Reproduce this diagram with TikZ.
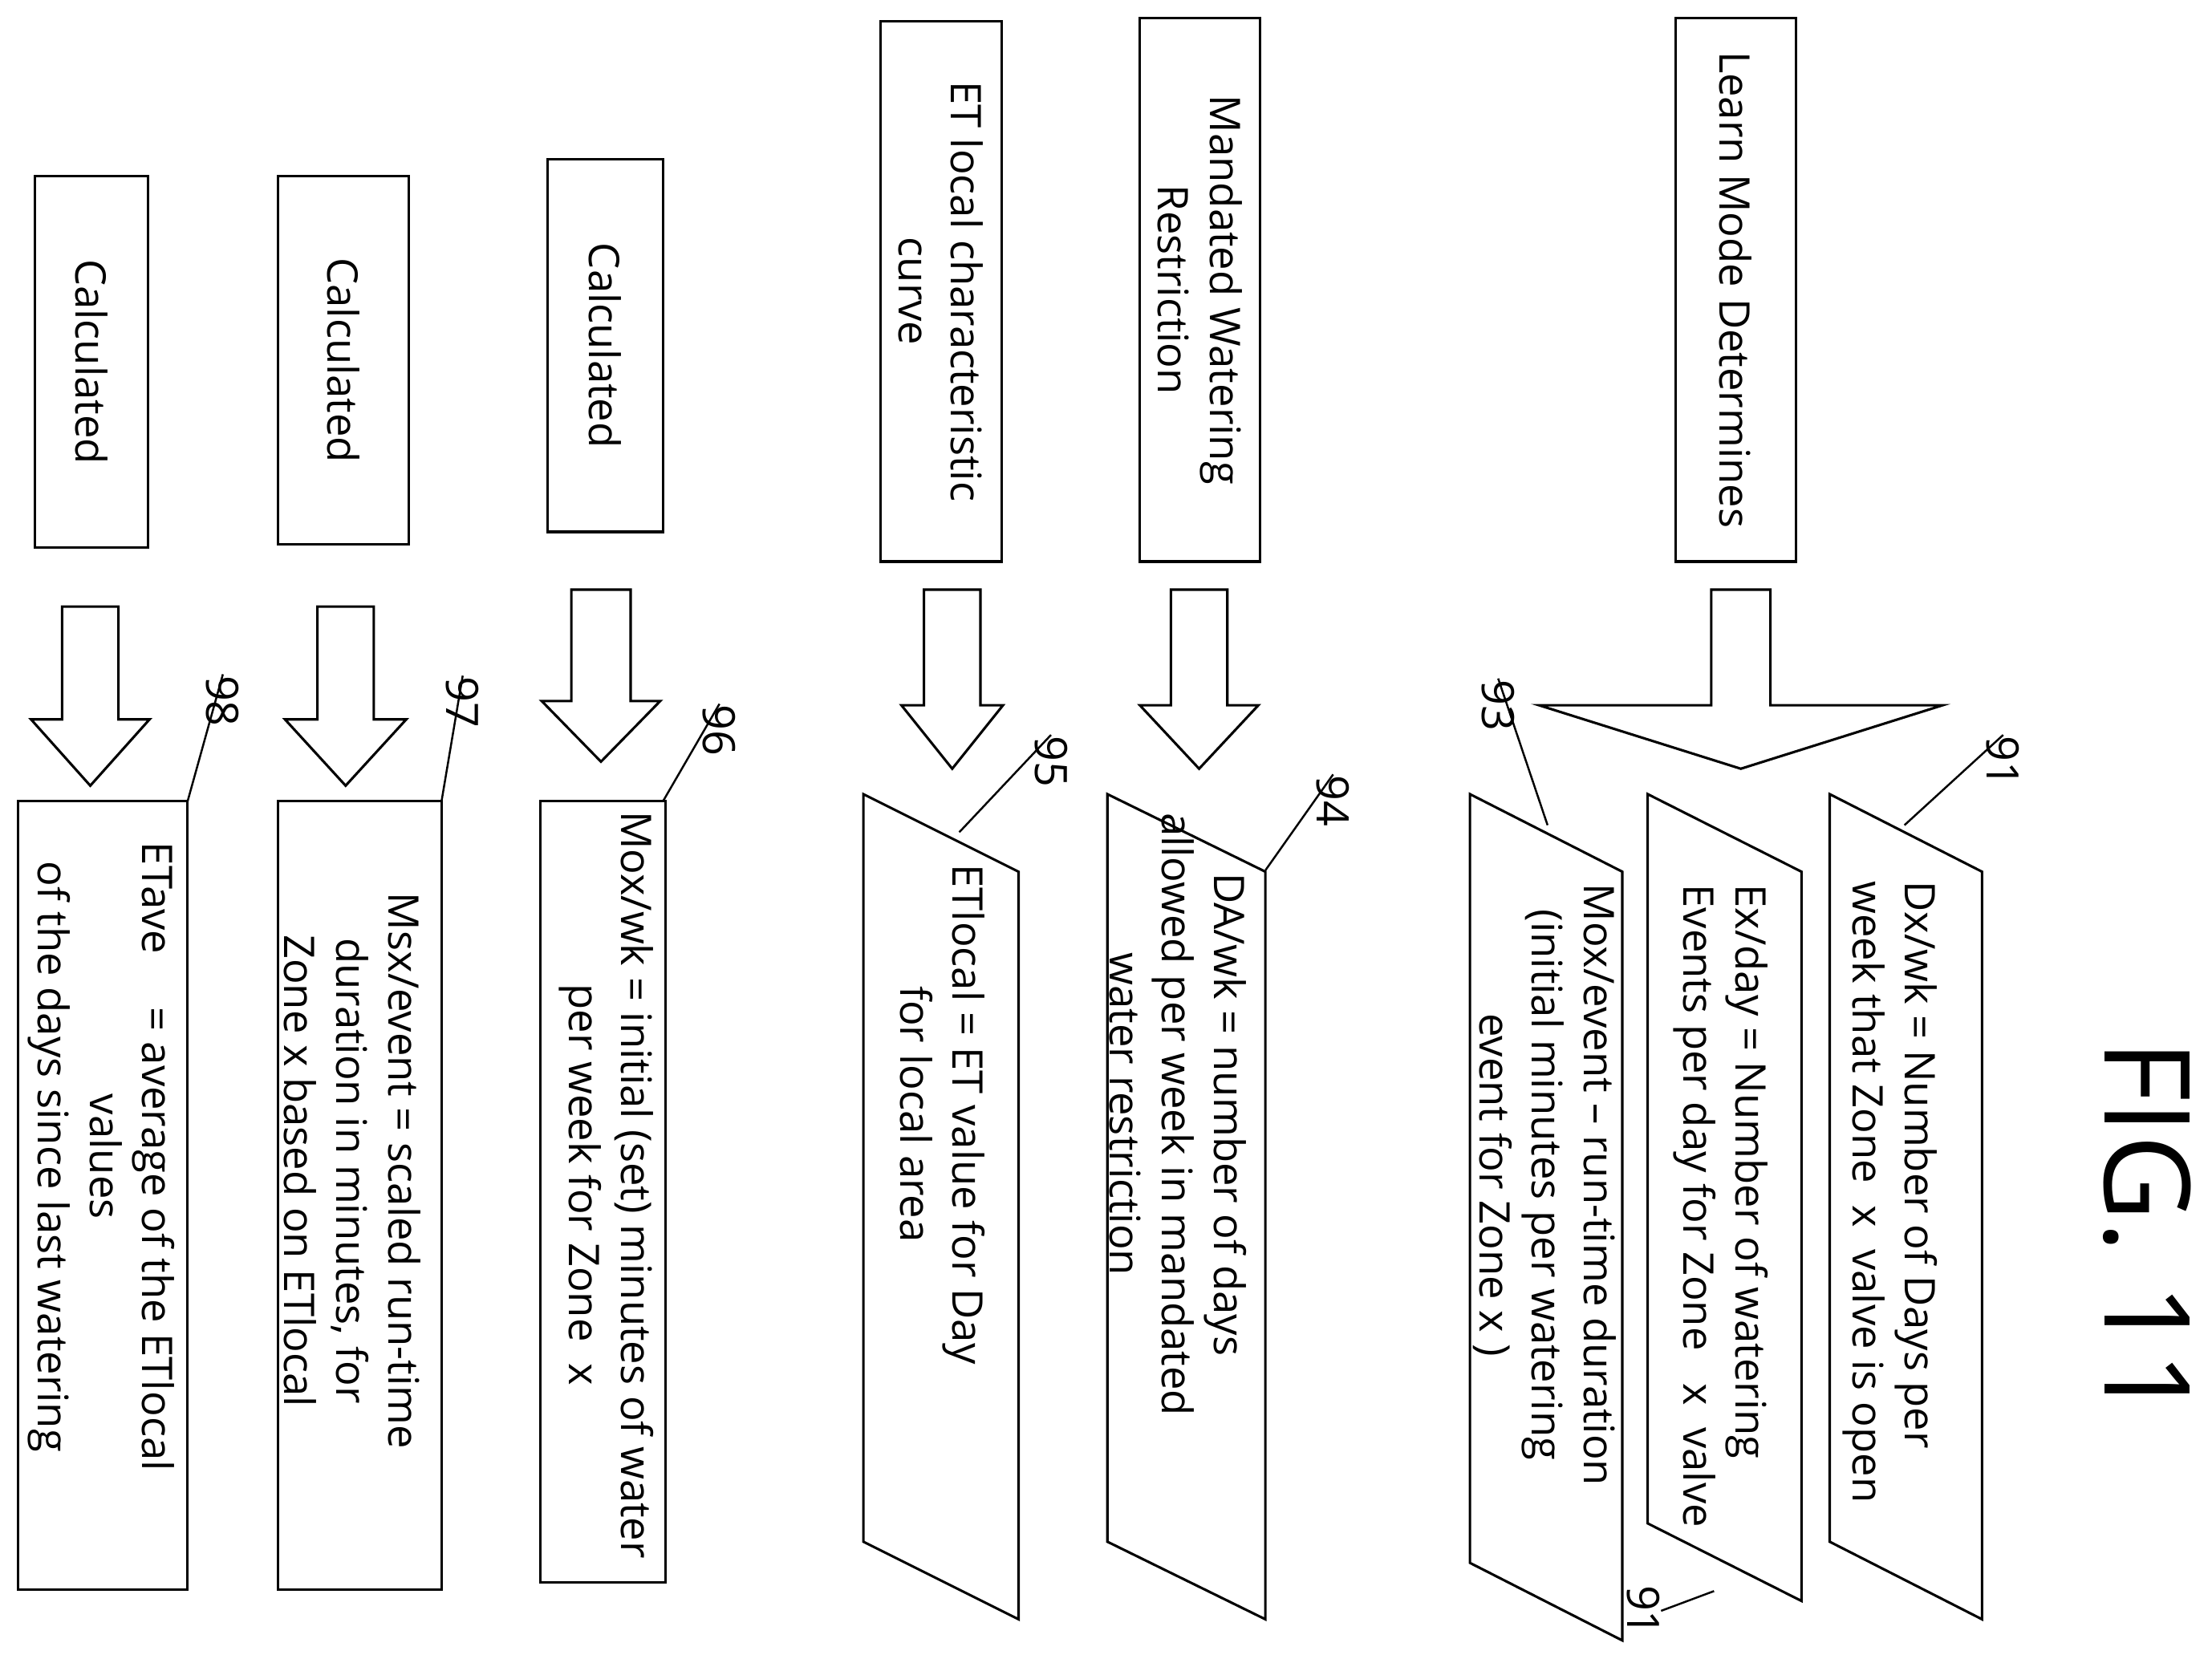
\documentclass[tikz,border=0pt]{standalone}
\usepackage{fontspec}
\setmainfont{Open Sans}
\usepackage{tikz}
\usetikzlibrary{positioning}
\tikzset{
  box/.style={draw, rotate=-90, inner sep=0pt, font=\fontsize{8.5}{10.5}\selectfont, align=center},
  txt/.style={rotate=-90, inner sep=0pt, font=\fontsize{8.5}{10.5}\selectfont, align=center},
  num/.style={rotate=-90, inner sep=0pt, font=\fontsize{9}{10}\selectfont},
  lead/.style={thin}
}
\begin{document}
\begin{tikzpicture}[x=0.01cm,y=-0.01cm,line width=0.5pt]
\useasboundingbox (0,0) rectangle (1568,1176);

% to draw input boxes
\node [box, minimum width=3.85cm, minimum height=0.85cm] (learn) at (1230.5,205.5) {Learn Mode Determines};
\node [box, minimum width=3.85cm, minimum height=0.85cm] (mand) at (850.5,205.5) {Mandated Watering\\Restriction};
\node [box, minimum width=3.83cm, minimum height=0.86cm] (etc) at (667,206.5) {ET local characteristic\\curve};
\node [box, minimum width=2.64cm, minimum height=0.82cm] (calc1) at (429,245) {Calculated};
\node [box, minimum width=2.61cm, minimum height=0.93cm] (calc2) at (243.5,255.5) {Calculated};
\node [box, minimum width=2.63cm, minimum height=0.80cm] (calc3) at (65,256.5) {Calculated};

% to draw block arrows
\foreach \cx/\yt/\yh/\yp/\s/\h in {1234/418/500/545/21/143, 850/418/500/545/20/42,
    675/418/500/545/20/36, 426/418/497/540/21/42, 245/430/510/557/20/43, 64/430/510/557/20/42}
  \draw (\cx-\s,\yt) -- (\cx+\s,\yt) -- (\cx+\s,\yh) -- (\cx+\h,\yh) -- (\cx,\yp)
        -- (\cx-\h,\yh) -- (\cx-\s,\yh) -- cycle;

% to draw slanted boxes
\foreach \xl/\xr/\yt/\yb in {1297/1405/563/1093, 1168/1277/563/1080, 1042/1150/563/1108,
    785/897/563/1093, 612/722/563/1093}
  \draw (\xl,\yt) -- (\xr,\yt+55) -- (\xr,\yb+55) -- (\xl,\yb) -- cycle;

% to draw result boxes
\draw (383,568) rectangle (472,1122);
\draw (197,568) rectangle (313,1127);
\draw (13,568) rectangle (133,1127);

% to write results
\node [txt, align=left] (dx) at (1340,845) {Dx/wk = Number of Days per\\week that Zone \ x \ valve is open};
\node [txt, align=left] (ex) at (1220,855) {Ex/day = Number of watering\\Events per day for Zone \ \ x \ valve};
\node [txt] (mox) at (1095,840) {Mox/event -- run-time duration\\(initial minutes per watering\\event for Zone x )};
\node [txt] (da) at (835,790) {DA/wk = number of days\\allowed per week in mandated\\water restriction};
\node [txt] (etl) at (668,790) {ETlocal = ET value for Day\\for local area};
\node [txt] (moxwk) at (430,840) {Mox/wk = initial (set) minutes of water\\per week for Zone \ x};
\node [txt] (msx) at (250,830) {Msx/event = scaled run-time\\duration in minutes, for\\Zone x based on ETlocal};
\node [txt] (etave) at (72,820) {ETave \quad = average of the ETlocal\\values\\of the days since last watering};

% to write reference numbers
\node [num] (n91) at (1420,540) {91};
\node [num] (n93) at (1062,500) {93};
\node [num] (n94) at (945,568) {94};
\node [num] (n95) at (745,540) {95};
\node [num] (n96) at (510,518) {96};
\node [num] (n97) at (328,498) {97};
\node [num] (n98) at (158,497) {98};
\node [num] (n91b) at (1165,1142) {91};

% to draw leader lines
\coordinate (p91) at (1350,585);
\coordinate (p93) at (1097,585);
\coordinate (p94) at (897,617);
\coordinate (p95) at (680,590);
\coordinate (p96) at (470,568);
\coordinate (p97) at (313,568);
\coordinate (p98) at (133,568);
\coordinate (p91b) at (1215,1128);
\draw [lead] (n91.west) -- (p91);
\draw [lead] (n93.west) -- (p93);
\draw [lead] (n94.west) -- (p94);
\draw [lead] (n95.west) -- (p95);
\draw [lead] (n96.west) -- (p96);
\draw [lead] (n97.west) -- (p97);
\draw [lead] (n98.west) -- (p98);
\draw [lead] (n91b.north) -- (p91b);

% figure title
\node [rotate=-90, font=\fontsize{24}{24}\selectfont] (fig) at (1522,872) {FIG. 11};
\end{tikzpicture}
\end{document}
